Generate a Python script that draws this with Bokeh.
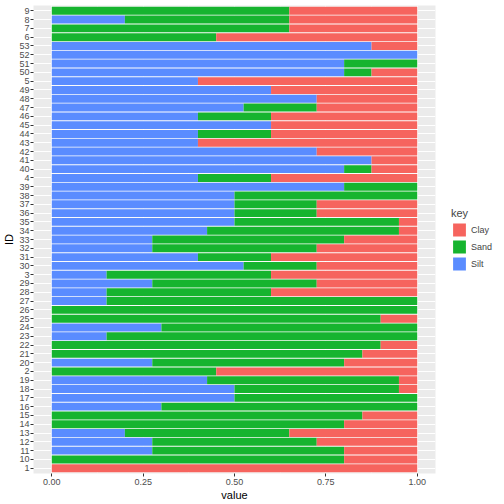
from bokeh.plotting import figure
from bokeh.models import (ColumnDataSource, FactorRange, Range1d, FixedTicker,
                          NumeralTickFormatter, Legend, LegendItem)
from bokeh.embed import file_html
from bokeh.resources import INLINE

# IDs as ggplot sorts them (bottom to top)
ids = ["1", "10", "11", "12", "13", "14", "15", "16", "17", "18", "19", "2",
       "20", "21", "22", "23", "24", "25", "26", "27", "28", "29", "3", "30",
       "31", "32", "33", "34", "35", "36", "37", "38", "39", "4", "40", "41",
       "42", "43", "44", "45", "46", "47", "48", "49", "5", "50", "51", "52",
       "53", "6", "7", "8", "9"]

silt = [0, 0, 0.275, 0.275, 0.2, 0, 0, 0.3, 0.5, 0.5, 0.425, 0,
        0.275, 0, 0, 0.15, 0.3, 0, 0, 0.15, 0.15, 0.275, 0.15, 0.525,
        0.4, 0.275, 0.275, 0.425, 0.5, 0.5, 0.5, 0.5, 0.8, 0.4, 0.8, 0.875,
        0.725, 0.4, 0.4, 0.6, 0.4, 0.525, 0.725, 0.6, 0.4, 0.8, 0.8, 1.0,
        0.875, 0, 0, 0.2, 0]
sand = [0, 0.8, 0.525, 0.45, 0.45, 0.8, 0.85, 0.7, 0.5, 0.45, 0.525, 0.45,
        0.525, 0.85, 0.9, 0.85, 0.7, 0.9, 1.0, 0.85, 0.45, 0.45, 0.45, 0.2,
        0.2, 0.45, 0.525, 0.525, 0.45, 0.225, 0.225, 0.5, 0.2, 0.2, 0.075, 0,
        0, 0, 0.2, 0, 0.2, 0.2, 0, 0, 0, 0.075, 0.2, 0,
        0, 0.45, 0.65, 0.45, 0.65]
clay = [1.0, 0.2, 0.2, 0.275, 0.35, 0.2, 0.15, 0, 0, 0.05, 0.05, 0.55,
        0.2, 0.15, 0.1, 0, 0, 0.1, 0, 0, 0.4, 0.275, 0.4, 0.275,
        0.4, 0.275, 0.2, 0.05, 0.05, 0.275, 0.275, 0, 0, 0.4, 0.125, 0.125,
        0.275, 0.6, 0.4, 0.4, 0.4, 0.275, 0.275, 0.4, 0.6, 0.125, 0, 0,
        0.125, 0.55, 0.35, 0.35, 0.35]

keys = ["Clay", "Sand", "Silt"]
colors = {"Clay": "#F6645E", "Sand": "#16B42F", "Silt": "#5A8CFF"}
x_ticks = [0, 0.25, 0.5, 0.75, 1.0]
x_minor = [0.125, 0.375, 0.625, 0.875]

total = [a + b + c for a, b, c in zip(silt, sand, clay)]
source = ColumnDataSource(data={"ID": ids, "Silt": silt, "Sand": sand,
                                "Clay": clay, "total": total})

FONT = "Liberation Sans"

p = figure(frame_width=402, frame_height=468,
           y_range=FactorRange(factors=ids, range_padding=0.1,
                               range_padding_units="absolute"),
           x_range=Range1d(-0.05, 1.05),
           output_backend="svg", toolbar_location=None,
           min_border_left=10, min_border_right=0,
           min_border_top=5, min_border_bottom=10)

p.background_fill_color = "#EBEBEB"
p.border_fill_color = "white"
p.outline_line_color = None

# white behind the bars, shows through the gaps
p.hbar(y="ID", left=0, right="total", height=1.0, source=source,
       fill_color="white", line_color=None)

rs = p.hbar_stack(["Silt", "Sand", "Clay"], y="ID", height=0.9,
                  color=[colors["Silt"], colors["Sand"], colors["Clay"]],
                  line_color=None, source=source)
by_key = {"Silt": rs[0], "Sand": rs[1], "Clay": rs[2]}

p.xaxis.ticker = FixedTicker(ticks=x_ticks, minor_ticks=x_minor)
p.xaxis.formatter = NumeralTickFormatter(format="0.00")

p.xgrid.grid_line_color = "white"
p.xgrid.grid_line_width = 1.1
p.xgrid.minor_grid_line_color = "white"
p.xgrid.minor_grid_line_width = 0.55
p.ygrid.grid_line_color = "white"
p.ygrid.grid_line_width = 1.1

for ax in (p.xaxis, p.yaxis):
    ax.axis_line_color = None
    ax.major_tick_line_color = "#333333"
    ax.major_tick_in = 0
    ax.major_tick_out = 3
    ax.minor_tick_line_color = None
    ax.major_label_text_font = FONT
    ax.major_label_text_font_size = "9px"
    ax.major_label_text_color = "#4D4D4D"
    ax.major_label_standoff = 1
    ax.axis_label_text_font = FONT
    ax.axis_label_text_font_size = "11px"
    ax.axis_label_text_font_style = "normal"
    ax.axis_label_text_color = "black"
    ax.axis_label_standoff = 1

p.xaxis.axis_label = "value"
p.yaxis.axis_label = "ID"

legend = Legend(items=[LegendItem(label=k, renderers=[by_key[k]]) for k in keys],
                title="key", location="center_left")
legend.title_text_font = FONT
legend.title_text_font_size = "11px"
legend.title_text_font_style = "normal"
legend.title_standoff = 3
legend.label_text_font = FONT
legend.label_text_font_size = "9px"
legend.label_width = 10
legend.glyph_width = 16
legend.glyph_height = 16
legend.spacing = 1
legend.label_standoff = 4
legend.padding = 2
legend.margin = 16
legend.border_line_color = None
legend.background_fill_alpha = 0
p.add_layout(legend, "right")

open("out.html", "w").write(file_html(p, INLINE))
